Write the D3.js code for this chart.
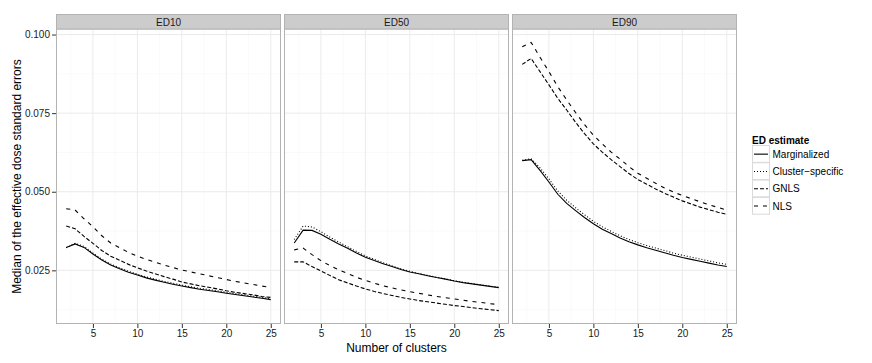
<!DOCTYPE html>
<html>
<head>
<meta charset="utf-8">
<script src="https://cdn.jsdelivr.net/npm/d3@7"></script>
<style>
  body { margin: 0; background: #fff; }
  svg { font-family: "Liberation Sans", Arial, Helvetica, sans-serif; }
</style>
</head>
<body>
<div id="chart"></div>
<script>
// Number of clusters (x) and the median ED standard errors per panel / estimator
const clusters = [2,3,4,5,6,7,8,9,10,11,12,13,14,15,16,17,18,19,20,21,22,23,24,25];
const panels = ["ED10", "ED50", "ED90"];
const estimators = ["Marginalized", "Cluster\u2212specific", "GNLS", "NLS"];

const ed10Marginalized = [.0323,.0334,.0323,.0302,.0283,.0267,.0255,.0244,.0235,.0226,.0219,.0212,.0206,.0200,.0195,.0190,.0186,.0182,.0177,.0173,.0169,.0165,.0161,.0157];
const ed10Cluster      = [.0322,.0336,.0326,.0305,.0286,.0270,.0258,.0247,.0238,.0229,.0222,.0215,.0209,.0203,.0198,.0193,.0189,.0185,.0180,.0176,.0172,.0168,.0164,.0160];
const ed10GNLS         = [.0391,.0382,.0358,.0336,.0313,.0295,.0282,.0269,.0258,.0248,.0239,.0230,.0222,.0213,.0207,.0201,.0196,.0191,.0185,.0180,.0176,.0172,.0167,.0164];
const ed10NLS          = [.0446,.0442,.0414,.0389,.0360,.0337,.0322,.0307,.0295,.0285,.0276,.0267,.0259,.0251,.0245,.0239,.0233,.0227,.0221,.0215,.0210,.0205,.0200,.0196];

const ed50Marginalized = [.0337,.0378,.0377,.0365,.0349,.0334,.0320,.0305,.0292,.0281,.0271,.0262,.0253,.0245,.0239,.0233,.0227,.0222,.0216,.0211,.0207,.0203,.0199,.0195];
const ed50Cluster      = [.0348,.0391,.0388,.0373,.0356,.0340,.0325,.0310,.0296,.0285,.0274,.0264,.0255,.0247,.0240,.0234,.0228,.0223,.0217,.0212,.0208,.0204,.0200,.0196];
const ed50GNLS         = [.0277,.0277,.0262,.0248,.0234,.0220,.0210,.0200,.0191,.0183,.0176,.0170,.0164,.0159,.0154,.0150,.0146,.0142,.0138,.0135,.0131,.0128,.0125,.0122];
const ed50NLS          = [.0315,.0321,.0300,.0281,.0265,.0252,.0240,.0228,.0218,.0209,.0201,.0194,.0188,.0182,.0177,.0172,.0167,.0163,.0159,.0155,.0151,.0148,.0144,.0141];

const ed90Marginalized = [.0599,.0602,.0568,.0531,.0492,.0463,.0440,.0418,.0398,.0381,.0367,.0353,.0341,.0331,.0322,.0314,.0306,.0298,.0291,.0285,.0279,.0273,.0267,.0262];
const ed90Cluster      = [.0600,.0605,.0576,.0541,.0502,.0473,.0449,.0427,.0406,.0389,.0374,.0360,.0348,.0338,.0329,.0321,.0313,.0305,.0298,.0292,.0286,.0280,.0274,.0269];
const ed90GNLS         = [.0905,.0924,.0882,.0840,.0797,.0760,.0721,.0685,.0652,.0626,.0602,.0580,.0558,.0539,.0524,.0509,.0495,.0483,.0471,.0461,.0451,.0443,.0435,.0428];
const ed90NLS          = [.0961,.0975,.0928,.0882,.0834,.0792,.0752,.0714,.0680,.0652,.0626,.0604,.0580,.0559,.0543,.0527,.0512,.0499,.0488,.0478,.0468,.0459,.0450,.0442];

const xTicks = [5, 10, 15, 20, 25];
const yTicks = [0.025, 0.050, 0.075, 0.100];

const panelData = {
  ED10: [ed10Marginalized, ed10Cluster, ed10GNLS, ed10NLS],
  ED50: [ed50Marginalized, ed50Cluster, ed50GNLS, ed50NLS],
  ED90: [ed90Marginalized, ed90Cluster, ed90GNLS, ed90NLS]
};
const dashes = [null, "1,2", "4,2", "4,5"];

const width = 872, height = 363;
const panelLeft = [56, 284, 512];
const panelW = 225;
const stripTop = 14, panelTop = 29, panelBottom = 324;

const svg = d3.select("#chart").append("svg")
  .attr("width", width)
  .attr("height", height);

// shared y scale with ggplot-like 5% expansion
const allVals = Object.values(panelData).flat(2);
const [yMin, yMax] = d3.extent(allVals);
const yPad = (yMax - yMin) * 0.05;
const y = d3.scaleLinear().domain([yMin - yPad, yMax + yPad]).range([panelBottom, panelTop]);
const xPad = (d3.max(clusters) - d3.min(clusters)) * 0.05;

const yMinor = [0.0125, 0.0375, 0.0625, 0.0875];
const xMinor = [2.5, 7.5, 12.5, 17.5, 22.5];

panels.forEach((name, i) => {
  const x = d3.scaleLinear()
    .domain([d3.min(clusters) - xPad, d3.max(clusters) + xPad])
    .range([panelLeft[i], panelLeft[i] + panelW]);
  const g = svg.append("g");

  g.append("rect")
    .attr("x", panelLeft[i]).attr("y", panelTop)
    .attr("width", panelW).attr("height", panelBottom - panelTop)
    .attr("fill", "#fff");

  // minor grid
  g.selectAll(".ymin").data(yMinor.filter(v => y(v) > panelTop && y(v) < panelBottom)).join("line")
    .attr("x1", panelLeft[i]).attr("x2", panelLeft[i] + panelW)
    .attr("y1", d => y(d)).attr("y2", d => y(d))
    .attr("stroke", "#f7f7f7").attr("stroke-width", 0.6);
  g.selectAll(".xmin").data(xMinor).join("line")
    .attr("x1", d => x(d)).attr("x2", d => x(d))
    .attr("y1", panelTop).attr("y2", panelBottom)
    .attr("stroke", "#f7f7f7").attr("stroke-width", 0.6);
  // major grid
  g.selectAll(".ymaj").data(yTicks).join("line")
    .attr("x1", panelLeft[i]).attr("x2", panelLeft[i] + panelW)
    .attr("y1", d => y(d)).attr("y2", d => y(d))
    .attr("stroke", "#ebebeb").attr("stroke-width", 1);
  g.selectAll(".xmaj").data(xTicks).join("line")
    .attr("x1", d => x(d)).attr("x2", d => x(d))
    .attr("y1", panelTop).attr("y2", panelBottom)
    .attr("stroke", "#ebebeb").attr("stroke-width", 1);

  // lines
  const line = d3.line().x((d, j) => x(clusters[j])).y(d => y(d));
  g.selectAll(".series").data(panelData[name]).join("path")
    .attr("d", d => line(d))
    .attr("fill", "none")
    .attr("stroke", "#000")
    .attr("stroke-width", 1.1)
    .attr("stroke-dasharray", (d, k) => dashes[k]);

  // panel border
  g.append("rect")
    .attr("x", panelLeft[i] + 0.5).attr("y", panelTop)
    .attr("width", panelW - 1).attr("height", panelBottom - panelTop - 0.5)
    .attr("fill", "none").attr("stroke", "#b3b3b3").attr("stroke-width", 1);

  // strip
  g.append("rect")
    .attr("x", panelLeft[i] + 0.5).attr("y", stripTop + 0.5)
    .attr("width", panelW - 1).attr("height", panelTop - stripTop - 0.5)
    .attr("fill", "#cccccc").attr("stroke", "#b3b3b3").attr("stroke-width", 1);
  g.append("text")
    .attr("x", panelLeft[i] + panelW / 2).attr("y", 25.5)
    .attr("text-anchor", "middle")
    .style("font-size", "10px").attr("fill", "#1a1a1a")
    .text(name);

  // x axis
  const xAxis = d3.axisBottom(x).tickValues(xTicks).tickSize(4).tickPadding(2);
  const ax = g.append("g").attr("transform", `translate(0,${panelBottom})`).call(xAxis);
  ax.select(".domain").remove();
  ax.selectAll(".tick line").attr("stroke", "#333");
  ax.selectAll("text").style("font-size", "10px").attr("fill", "#1a1a1a")
    .style("font-family", "'Liberation Sans', Arial, sans-serif");
});

// y axis (left panel only)
const yAxis = d3.axisLeft(y).tickValues(yTicks).tickFormat(d3.format(".3f")).tickSize(4).tickPadding(2);
const ay = svg.append("g").attr("transform", `translate(${panelLeft[0]},0)`).call(yAxis);
ay.select(".domain").remove();
ay.selectAll(".tick line").attr("stroke", "#333");
ay.selectAll("text").style("font-size", "10px").attr("fill", "#1a1a1a")
  .style("font-family", "'Liberation Sans', Arial, sans-serif");

// axis titles
svg.append("text")
  .attr("x", (panelLeft[0] + panelLeft[2] + panelW) / 2).attr("y", 352)
  .attr("text-anchor", "middle")
  .style("font-size", "12px")
  .text("Number of clusters");
svg.append("text")
  .attr("transform", `translate(21,${(panelTop + panelBottom) / 2}) rotate(-90)`)
  .attr("text-anchor", "middle")
  .style("font-size", "12px")
  .text("Median of the effective dose standard errors");

// legend
const legend = svg.append("g").attr("transform", "translate(752,145)");
legend.append("text")
  .attr("x", 0).attr("y", -1.5)
  .style("font-size", "10px").style("font-weight", "bold")
  .text("ED estimate");
const keyH = 17.3;
const keys = legend.selectAll(".key").data(estimators).join("g")
  .attr("transform", (d, k) => `translate(0,${k * keyH})`);
keys.append("rect")
  .attr("x", 0.5).attr("y", 0.5).attr("width", 17).attr("height", keyH - 0.5)
  .attr("fill", "#fff").attr("stroke", "#d9d9d9").attr("stroke-width", 1);
keys.append("line")
  .attr("x1", 2).attr("x2", 16).attr("y1", keyH / 2 + 0.5).attr("y2", keyH / 2 + 0.5)
  .attr("stroke", "#000").attr("stroke-width", 1.1)
  .attr("stroke-dasharray", (d, k) => dashes[k]);
keys.append("text")
  .attr("x", 20.5).attr("y", keyH / 2 + 4)
  .style("font-size", "10px")
  .text(d => d);
</script>
</body>
</html>
